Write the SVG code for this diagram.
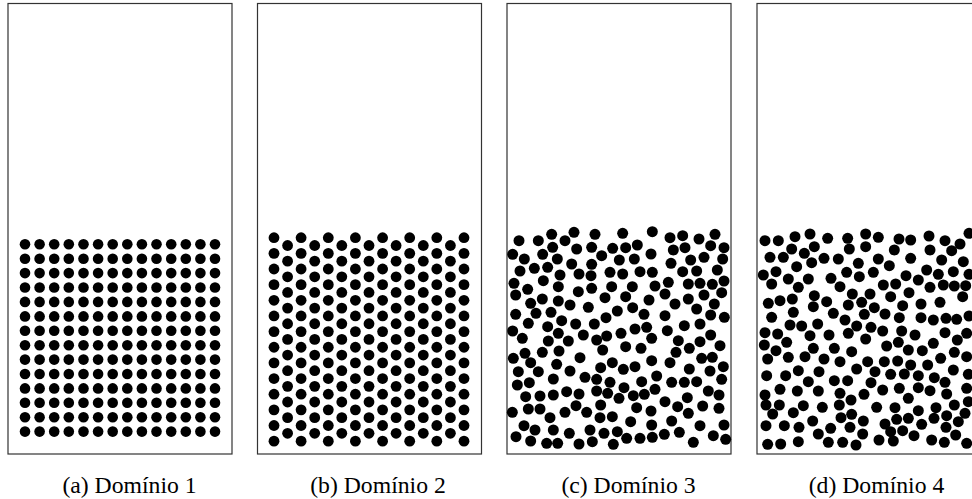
<svg xmlns="http://www.w3.org/2000/svg" xmlns:xlink="http://www.w3.org/1999/xlink" width="972" height="499" viewBox="0 0 972 499">
<style>
.frame{fill:#fff;stroke:#333;stroke-width:1.2}
.p circle{fill:#000}
.cap{font-family:"Liberation Serif","Times New Roman",serif;font-size:23.7px;fill:#000;text-anchor:middle}
</style>
<defs>
<g id="rowA">
<circle cx="25" cy="0" r="5.3"/><circle cx="39.6" cy="0" r="5.3"/><circle cx="54.2" cy="0" r="5.3"/><circle cx="68.8" cy="0" r="5.3"/><circle cx="83.5" cy="0" r="5.3"/><circle cx="98.1" cy="0" r="5.3"/><circle cx="112.7" cy="0" r="5.3"/><circle cx="127.3" cy="0" r="5.3"/><circle cx="141.9" cy="0" r="5.3"/><circle cx="156.5" cy="0" r="5.3"/><circle cx="171.2" cy="0" r="5.3"/><circle cx="185.8" cy="0" r="5.3"/><circle cx="200.4" cy="0" r="5.3"/><circle cx="215" cy="0" r="5.3"/>
</g>
<g id="rowBe">
<circle cx="274" cy="0" r="5.4"/><circle cx="301.1" cy="0" r="5.4"/><circle cx="328.3" cy="0" r="5.4"/><circle cx="355.4" cy="0" r="5.4"/><circle cx="382.6" cy="0" r="5.4"/><circle cx="409.7" cy="0" r="5.4"/><circle cx="436.8" cy="0" r="5.4"/><circle cx="464" cy="0" r="5.4"/>
</g>
<g id="rowBo">
<circle cx="287.6" cy="0" r="5.4"/><circle cx="314.7" cy="0" r="5.4"/><circle cx="341.8" cy="0" r="5.4"/><circle cx="369" cy="0" r="5.4"/><circle cx="396.1" cy="0" r="5.4"/><circle cx="423.3" cy="0" r="5.4"/><circle cx="450.4" cy="0" r="5.4"/>
</g>
</defs>
<rect width="972" height="499" fill="#fff"/>

<g id="panel-a">
<rect class="frame" x="8" y="3.5" width="224" height="450.5"/>
<g class="p" fill="#000">
<use xlink:href="#rowA" y="244.3"/><use xlink:href="#rowA" y="258.7"/><use xlink:href="#rowA" y="273.1"/><use xlink:href="#rowA" y="287.5"/><use xlink:href="#rowA" y="301.9"/><use xlink:href="#rowA" y="316.4"/><use xlink:href="#rowA" y="330.8"/><use xlink:href="#rowA" y="345.2"/><use xlink:href="#rowA" y="359.6"/><use xlink:href="#rowA" y="374"/><use xlink:href="#rowA" y="388.4"/><use xlink:href="#rowA" y="402.8"/><use xlink:href="#rowA" y="417.2"/><use xlink:href="#rowA" y="431.6"/>
</g>
<text class="cap" x="129.5" y="493">(a) Domínio 1</text>
</g>

<g id="panel-b">
<rect class="frame" x="257.5" y="3.5" width="224" height="450.5"/>
<g class="p" fill="#000">
<use xlink:href="#rowBe" y="237.7"/><use xlink:href="#rowBe" y="253.35"/><use xlink:href="#rowBe" y="269"/><use xlink:href="#rowBe" y="284.65"/><use xlink:href="#rowBe" y="300.3"/><use xlink:href="#rowBe" y="315.95"/><use xlink:href="#rowBe" y="331.6"/><use xlink:href="#rowBe" y="347.25"/><use xlink:href="#rowBe" y="362.9"/><use xlink:href="#rowBe" y="378.55"/><use xlink:href="#rowBe" y="394.2"/><use xlink:href="#rowBe" y="409.85"/><use xlink:href="#rowBe" y="425.5"/><use xlink:href="#rowBe" y="441.15"/>
<use xlink:href="#rowBo" y="245.5"/><use xlink:href="#rowBo" y="261.15"/><use xlink:href="#rowBo" y="276.8"/><use xlink:href="#rowBo" y="292.45"/><use xlink:href="#rowBo" y="308.1"/><use xlink:href="#rowBo" y="323.75"/><use xlink:href="#rowBo" y="339.4"/><use xlink:href="#rowBo" y="355.05"/><use xlink:href="#rowBo" y="370.7"/><use xlink:href="#rowBo" y="386.35"/><use xlink:href="#rowBo" y="402"/><use xlink:href="#rowBo" y="417.65"/><use xlink:href="#rowBo" y="433.3"/>
</g>
<text class="cap" x="378" y="493">(b) Domínio 2</text>
</g>

<g id="panel-c">
<rect class="frame" x="507" y="3.5" width="224" height="450.5"/>
<g class="p" fill="#000" transform="translate(500,225) scale(0.33333)">
<circle cx="155" cy="28" r="16.5"/><circle cx="222" cy="22" r="16.5"/><circle cx="285" cy="28" r="16.5"/><circle cx="368" cy="25" r="16.5"/><circle cx="457" cy="20" r="16.5"/><circle cx="510" cy="38" r="16.5"/><circle cx="548" cy="32" r="16.5"/><circle cx="597" cy="42" r="16.5"/><circle cx="645" cy="28" r="16.5"/>
<circle cx="57" cy="47" r="16.5"/><circle cx="115" cy="47" r="16.5"/><circle cx="195" cy="47" r="16.5"/>
<circle cx="158" cy="67" r="16.5"/><circle cx="230" cy="72" r="16.5"/><circle cx="275" cy="67" r="16.5"/><circle cx="338" cy="70" r="16.5"/><circle cx="377" cy="68" r="16.5"/><circle cx="412" cy="60" r="16.5"/><circle cx="453" cy="87" r="16.5"/><circle cx="520" cy="75" r="16.5"/><circle cx="555" cy="68" r="16.5"/><circle cx="632" cy="62" r="16.5"/><circle cx="672" cy="68" r="16.5"/>
<circle cx="38" cy="88" r="16.5"/><circle cx="128" cy="88" r="16.5"/><circle cx="305" cy="92" r="16.5"/>
<circle cx="73" cy="102" r="16.5"/><circle cx="172" cy="102" r="16.5"/><circle cx="215" cy="117" r="16.5"/><circle cx="275" cy="118" r="16.5"/><circle cx="358" cy="105" r="16.5"/><circle cx="403" cy="102" r="16.5"/><circle cx="513" cy="115" r="16.5"/><circle cx="572" cy="105" r="16.5"/><circle cx="612" cy="97" r="16.5"/><circle cx="668" cy="102" r="16.5"/>
<circle cx="103" cy="130" r="16.5"/><circle cx="143" cy="127" r="16.5"/><circle cx="60" cy="138" r="16.5"/>
<circle cx="180" cy="150" r="16.5"/><circle cx="237" cy="147" r="16.5"/><circle cx="273" cy="152" r="16.5"/><circle cx="330" cy="142" r="16.5"/><circle cx="368" cy="147" r="16.5"/><circle cx="420" cy="140" r="16.5"/><circle cx="457" cy="142" r="16.5"/><circle cx="548" cy="140" r="16.5"/><circle cx="590" cy="138" r="16.5"/><circle cx="652" cy="135" r="16.5"/>
<circle cx="42" cy="175" r="16.5"/><circle cx="130" cy="167" r="16.5"/><circle cx="175" cy="185" r="16.5"/><circle cx="235" cy="200" r="16.5"/><circle cx="275" cy="190" r="16.5"/><circle cx="335" cy="185" r="16.5"/><circle cx="397" cy="185" r="16.5"/><circle cx="465" cy="183" r="16.5"/><circle cx="505" cy="172" r="16.5"/><circle cx="565" cy="177" r="16.5"/><circle cx="600" cy="175" r="16.5"/><circle cx="637" cy="178" r="16.5"/><circle cx="672" cy="168" r="16.5"/>
<circle cx="83" cy="193" r="16.5"/>
<circle cx="47" cy="210" r="16.5"/><circle cx="127" cy="222" r="16.5"/><circle cx="175" cy="228" r="16.5"/><circle cx="210" cy="240" r="16.5"/><circle cx="265" cy="247" r="16.5"/><circle cx="315" cy="218" r="16.5"/><circle cx="377" cy="215" r="16.5"/><circle cx="447" cy="225" r="16.5"/><circle cx="495" cy="207" r="16.5"/><circle cx="525" cy="237" r="16.5"/><circle cx="565" cy="222" r="16.5"/><circle cx="612" cy="210" r="16.5"/><circle cx="643" cy="237" r="16.5"/><circle cx="665" cy="203" r="16.5"/>
<circle cx="92" cy="235" r="16.5"/>
<circle cx="47" cy="268" r="16.5"/><circle cx="108" cy="265" r="16.5"/><circle cx="153" cy="262" r="16.5"/><circle cx="352" cy="258" r="16.5"/><circle cx="398" cy="248" r="16.5"/><circle cx="432" cy="268" r="16.5"/><circle cx="495" cy="272" r="16.5"/><circle cx="590" cy="252" r="16.5"/><circle cx="632" cy="270" r="16.5"/><circle cx="673" cy="277" r="16.5"/>
<circle cx="85" cy="295" r="16.5"/><circle cx="185" cy="287" r="16.5"/><circle cx="227" cy="297" r="16.5"/><circle cx="283" cy="297" r="16.5"/><circle cx="318" cy="278" r="16.5"/><circle cx="405" cy="312" r="16.5"/><circle cx="440" cy="307" r="16.5"/><circle cx="502" cy="317" r="16.5"/><circle cx="553" cy="302" r="16.5"/><circle cx="600" cy="297" r="16.5"/>
<circle cx="38" cy="318" r="16.5"/><circle cx="143" cy="305" r="16.5"/>
<circle cx="67" cy="340" r="16.5"/><circle cx="175" cy="325" r="16.5"/><circle cx="250" cy="330" r="16.5"/><circle cx="290" cy="345" r="16.5"/><circle cx="320" cy="333" r="16.5"/><circle cx="363" cy="325" r="16.5"/><circle cx="455" cy="340" r="16.5"/><circle cx="535" cy="347" r="16.5"/><circle cx="600" cy="350" r="16.5"/><circle cx="632" cy="330" r="16.5"/><circle cx="660" cy="362" r="16.5"/>
<circle cx="145" cy="348" r="16.5"/><circle cx="205" cy="348" r="16.5"/>
<circle cx="177" cy="378" r="16.5"/><circle cx="308" cy="375" r="16.5"/><circle cx="377" cy="365" r="16.5"/><circle cx="423" cy="370" r="16.5"/><circle cx="528" cy="382" r="16.5"/><circle cx="568" cy="370" r="16.5"/>
<circle cx="75" cy="385" r="16.5"/><circle cx="127" cy="382" r="16.5"/><circle cx="40" cy="400" r="16.5"/><circle cx="240" cy="398" r="16.5"/>
<circle cx="92" cy="413" r="16.5"/><circle cx="170" cy="418" r="16.5"/><circle cx="302" cy="428" r="16.5"/><circle cx="337" cy="413" r="16.5"/><circle cx="370" cy="433" r="16.5"/><circle cx="405" cy="425" r="16.5"/><circle cx="455" cy="407" r="16.5"/><circle cx="510" cy="413" r="16.5"/><circle cx="568" cy="432" r="16.5"/><circle cx="605" cy="400" r="16.5"/><circle cx="637" cy="397" r="16.5"/><circle cx="670" cy="425" r="16.5"/>
<circle cx="55" cy="440" r="16.5"/><circle cx="115" cy="440" r="16.5"/><circle cx="210" cy="438" r="16.5"/><circle cx="630" cy="438" r="16.5"/>
<circle cx="160" cy="462" r="16.5"/><circle cx="255" cy="457" r="16.5"/><circle cx="290" cy="463" r="16.5"/><circle cx="330" cy="472" r="16.5"/><circle cx="425" cy="470" r="16.5"/><circle cx="470" cy="453" r="16.5"/><circle cx="515" cy="472" r="16.5"/><circle cx="553" cy="472" r="16.5"/><circle cx="590" cy="470" r="16.5"/><circle cx="665" cy="463" r="16.5"/>
<circle cx="52" cy="480" r="16.5"/><circle cx="88" cy="473" r="16.5"/>
<circle cx="77" cy="515" r="16.5"/><circle cx="120" cy="513" r="16.5"/><circle cx="160" cy="510" r="16.5"/><circle cx="200" cy="500" r="16.5"/><circle cx="237" cy="507" r="16.5"/><circle cx="290" cy="498" r="16.5"/><circle cx="372" cy="488" r="16.5"/><circle cx="400" cy="512" r="16.5"/><circle cx="433" cy="508" r="16.5"/><circle cx="465" cy="493" r="16.5"/><circle cx="495" cy="530" r="16.5"/><circle cx="562" cy="518" r="16.5"/><circle cx="625" cy="498" r="16.5"/><circle cx="657" cy="510" r="16.5"/>
<circle cx="323" cy="505" r="16.5"/><circle cx="357" cy="520" r="16.5"/>
<circle cx="37" cy="562" r="16.5"/><circle cx="85" cy="552" r="16.5"/><circle cx="120" cy="552" r="16.5"/><circle cx="228" cy="542" r="16.5"/><circle cx="302" cy="540" r="16.5"/><circle cx="410" cy="548" r="16.5"/><circle cx="453" cy="558" r="16.5"/><circle cx="533" cy="545" r="16.5"/><circle cx="565" cy="565" r="16.5"/><circle cx="608" cy="543" r="16.5"/><circle cx="657" cy="550" r="16.5"/>
<circle cx="195" cy="562" r="16.5"/><circle cx="260" cy="562" r="16.5"/>
<circle cx="150" cy="578" r="16.5"/><circle cx="300" cy="578" r="16.5"/><circle cx="337" cy="575" r="16.5"/><circle cx="392" cy="590" r="16.5"/><circle cx="455" cy="600" r="16.5"/><circle cx="515" cy="588" r="16.5"/><circle cx="600" cy="602" r="16.5"/><circle cx="672" cy="600" r="16.5"/>
<circle cx="72" cy="602" r="16.5"/><circle cx="105" cy="615" r="16.5"/><circle cx="160" cy="615" r="16.5"/><circle cx="208" cy="625" r="16.5"/><circle cx="270" cy="615" r="16.5"/><circle cx="312" cy="625" r="16.5"/><circle cx="352" cy="620" r="16.5"/>
<circle cx="48" cy="635" r="16.5"/><circle cx="92" cy="648" r="16.5"/><circle cx="140" cy="655" r="16.5"/><circle cx="173" cy="655" r="16.5"/><circle cx="237" cy="657" r="16.5"/><circle cx="277" cy="650" r="16.5"/><circle cx="340" cy="658" r="16.5"/><circle cx="380" cy="640" r="16.5"/><circle cx="420" cy="640" r="16.5"/><circle cx="457" cy="637" r="16.5"/><circle cx="493" cy="628" r="16.5"/><circle cx="538" cy="622" r="16.5"/><circle cx="580" cy="652" r="16.5"/><circle cx="640" cy="632" r="16.5"/><circle cx="677" cy="643" r="16.5"/>
</g>
<text class="cap" x="628.5" y="493">(c) Domínio 3</text>
</g>

<g id="panel-d">
<rect class="frame" x="757" y="3.5" width="224" height="450.5"/>
<g class="p" fill="#000" transform="translate(745,225) scale(0.33333)">
<circle cx="60" cy="47" r="16.5"/><circle cx="100" cy="47" r="16.5"/><circle cx="150" cy="35" r="16.5"/><circle cx="195" cy="27" r="16.5"/><circle cx="248" cy="40" r="16.5"/><circle cx="308" cy="40" r="16.5"/><circle cx="362" cy="27" r="16.5"/><circle cx="400" cy="37" r="16.5"/><circle cx="462" cy="42" r="16.5"/><circle cx="497" cy="45" r="16.5"/><circle cx="552" cy="33" r="16.5"/><circle cx="600" cy="47" r="16.5"/><circle cx="645" cy="57" r="16.5"/><circle cx="672" cy="25" r="16.5"/>
<circle cx="140" cy="72" r="16.5"/><circle cx="178" cy="85" r="16.5"/><circle cx="208" cy="65" r="16.5"/><circle cx="313" cy="72" r="16.5"/><circle cx="362" cy="65" r="16.5"/><circle cx="448" cy="75" r="16.5"/><circle cx="555" cy="75" r="16.5"/><circle cx="620" cy="77" r="16.5"/>
<circle cx="75" cy="97" r="16.5"/><circle cx="115" cy="97" r="16.5"/><circle cx="155" cy="125" r="16.5"/><circle cx="200" cy="113" r="16.5"/><circle cx="237" cy="100" r="16.5"/><circle cx="280" cy="102" r="16.5"/><circle cx="340" cy="115" r="16.5"/><circle cx="400" cy="102" r="16.5"/><circle cx="433" cy="122" r="16.5"/><circle cx="497" cy="100" r="16.5"/><circle cx="590" cy="105" r="16.5"/><circle cx="655" cy="110" r="16.5"/>
<circle cx="55" cy="150" r="16.5"/><circle cx="93" cy="140" r="16.5"/><circle cx="130" cy="162" r="16.5"/><circle cx="190" cy="162" r="16.5"/><circle cx="258" cy="160" r="16.5"/><circle cx="305" cy="142" r="16.5"/><circle cx="343" cy="155" r="16.5"/><circle cx="385" cy="142" r="16.5"/><circle cx="483" cy="152" r="16.5"/><circle cx="520" cy="165" r="16.5"/><circle cx="545" cy="135" r="16.5"/><circle cx="580" cy="148" r="16.5"/><circle cx="625" cy="140" r="16.5"/><circle cx="672" cy="148" r="16.5"/>
<circle cx="80" cy="177" r="16.5"/><circle cx="160" cy="187" r="16.5"/><circle cx="285" cy="185" r="16.5"/><circle cx="415" cy="180" r="16.5"/><circle cx="452" cy="177" r="16.5"/><circle cx="492" cy="203" r="16.5"/><circle cx="555" cy="187" r="16.5"/><circle cx="595" cy="180" r="16.5"/><circle cx="628" cy="183" r="16.5"/><circle cx="662" cy="182" r="16.5"/>
<circle cx="208" cy="212" r="16.5"/><circle cx="322" cy="207" r="16.5"/><circle cx="375" cy="207" r="16.5"/><circle cx="437" cy="215" r="16.5"/><circle cx="653" cy="215" r="16.5"/>
<circle cx="70" cy="235" r="16.5"/><circle cx="105" cy="227" r="16.5"/><circle cx="142" cy="222" r="16.5"/><circle cx="205" cy="245" r="16.5"/><circle cx="245" cy="230" r="16.5"/><circle cx="310" cy="240" r="16.5"/><circle cx="350" cy="232" r="16.5"/><circle cx="388" cy="248" r="16.5"/><circle cx="473" cy="242" r="16.5"/><circle cx="528" cy="237" r="16.5"/><circle cx="585" cy="232" r="16.5"/>
<circle cx="145" cy="262" r="16.5"/><circle cx="265" cy="265" r="16.5"/><circle cx="358" cy="268" r="16.5"/><circle cx="420" cy="267" r="16.5"/><circle cx="463" cy="278" r="16.5"/><circle cx="528" cy="278" r="16.5"/><circle cx="565" cy="285" r="16.5"/><circle cx="603" cy="280" r="16.5"/><circle cx="635" cy="283" r="16.5"/><circle cx="672" cy="273" r="16.5"/>
<circle cx="80" cy="277" r="16.5"/><circle cx="135" cy="300" r="16.5"/><circle cx="170" cy="303" r="16.5"/><circle cx="218" cy="297" r="16.5"/><circle cx="300" cy="285" r="16.5"/><circle cx="335" cy="303" r="16.5"/><circle cx="378" cy="307" r="16.5"/>
<circle cx="60" cy="323" r="16.5"/><circle cx="98" cy="327" r="16.5"/><circle cx="195" cy="332" r="16.5"/><circle cx="252" cy="330" r="16.5"/><circle cx="310" cy="325" r="16.5"/><circle cx="413" cy="318" r="16.5"/><circle cx="470" cy="318" r="16.5"/><circle cx="510" cy="330" r="16.5"/><circle cx="600" cy="323" r="16.5"/><circle cx="665" cy="325" r="16.5"/>
<circle cx="125" cy="352" r="16.5"/><circle cx="205" cy="370" r="16.5"/><circle cx="268" cy="370" r="16.5"/><circle cx="362" cy="342" r="16.5"/><circle cx="425" cy="363" r="16.5"/><circle cx="460" cy="352" r="16.5"/><circle cx="490" cy="375" r="16.5"/><circle cx="532" cy="377" r="16.5"/><circle cx="565" cy="355" r="16.5"/><circle cx="637" cy="345" r="16.5"/>
<circle cx="58" cy="360" r="16.5"/><circle cx="93" cy="377" r="16.5"/><circle cx="320" cy="380" r="16.5"/><circle cx="628" cy="382" r="16.5"/><circle cx="665" cy="395" r="16.5"/>
<circle cx="68" cy="402" r="16.5"/><circle cx="130" cy="397" r="16.5"/><circle cx="180" cy="395" r="16.5"/><circle cx="237" cy="402" r="16.5"/><circle cx="285" cy="410" r="16.5"/><circle cx="335" cy="432" r="16.5"/><circle cx="368" cy="410" r="16.5"/><circle cx="418" cy="410" r="16.5"/><circle cx="458" cy="408" r="16.5"/><circle cx="497" cy="420" r="16.5"/><circle cx="548" cy="420" r="16.5"/><circle cx="587" cy="400" r="16.5"/>
<circle cx="160" cy="437" r="16.5"/><circle cx="222" cy="440" r="16.5"/><circle cx="390" cy="440" r="16.5"/><circle cx="437" cy="448" r="16.5"/><circle cx="478" cy="447" r="16.5"/><circle cx="520" cy="452" r="16.5"/><circle cx="568" cy="458" r="16.5"/><circle cx="625" cy="435" r="16.5"/><circle cx="670" cy="448" r="16.5"/>
<circle cx="65" cy="452" r="16.5"/><circle cx="122" cy="452" r="16.5"/><circle cx="190" cy="470" r="16.5"/><circle cx="268" cy="467" r="16.5"/><circle cx="308" cy="467" r="16.5"/><circle cx="378" cy="473" r="16.5"/><circle cx="463" cy="490" r="16.5"/><circle cx="520" cy="488" r="16.5"/><circle cx="600" cy="472" r="16.5"/><circle cx="665" cy="490" r="16.5"/>
<circle cx="105" cy="493" r="16.5"/><circle cx="157" cy="498" r="16.5"/><circle cx="220" cy="498" r="16.5"/><circle cx="285" cy="505" r="16.5"/><circle cx="357" cy="508" r="16.5"/><circle cx="413" cy="495" r="16.5"/><circle cx="555" cy="497" r="16.5"/><circle cx="605" cy="507" r="16.5"/>
<circle cx="60" cy="510" r="16.5"/><circle cx="490" cy="520" r="16.5"/><circle cx="63" cy="540" r="16.5"/><circle cx="103" cy="540" r="16.5"/><circle cx="175" cy="542" r="16.5"/><circle cx="232" cy="547" r="16.5"/><circle cx="283" cy="540" r="16.5"/><circle cx="318" cy="525" r="16.5"/><circle cx="395" cy="547" r="16.5"/><circle cx="450" cy="548" r="16.5"/><circle cx="520" cy="557" r="16.5"/><circle cx="573" cy="548" r="16.5"/><circle cx="628" cy="540" r="16.5"/><circle cx="670" cy="530" r="16.5"/>
<circle cx="83" cy="567" r="16.5"/><circle cx="145" cy="563" r="16.5"/><circle cx="288" cy="578" r="16.5"/><circle cx="320" cy="568" r="16.5"/><circle cx="455" cy="583" r="16.5"/><circle cx="490" cy="580" r="16.5"/><circle cx="605" cy="572" r="16.5"/><circle cx="660" cy="565" r="16.5"/>
<circle cx="63" cy="602" r="16.5"/><circle cx="118" cy="602" r="16.5"/><circle cx="162" cy="607" r="16.5"/><circle cx="203" cy="588" r="16.5"/><circle cx="257" cy="610" r="16.5"/><circle cx="315" cy="607" r="16.5"/><circle cx="355" cy="588" r="16.5"/><circle cx="420" cy="597" r="16.5"/><circle cx="473" cy="617" r="16.5"/><circle cx="530" cy="598" r="16.5"/><circle cx="567" cy="580" r="16.5"/><circle cx="603" cy="607" r="16.5"/><circle cx="640" cy="590" r="16.5"/>
<circle cx="220" cy="627" r="16.5"/><circle cx="353" cy="627" r="16.5"/><circle cx="437" cy="620" r="16.5"/><circle cx="507" cy="632" r="16.5"/><circle cx="632" cy="630" r="16.5"/>
<circle cx="68" cy="658" r="16.5"/><circle cx="107" cy="657" r="16.5"/><circle cx="160" cy="650" r="16.5"/><circle cx="250" cy="652" r="16.5"/><circle cx="293" cy="652" r="16.5"/><circle cx="333" cy="660" r="16.5"/><circle cx="402" cy="645" r="16.5"/><circle cx="445" cy="648" r="16.5"/><circle cx="560" cy="645" r="16.5"/><circle cx="598" cy="652" r="16.5"/><circle cx="665" cy="655" r="16.5"/>
</g>
<text class="cap" x="876.5" y="493">(d) Domínio 4</text>
</g>
</svg>
